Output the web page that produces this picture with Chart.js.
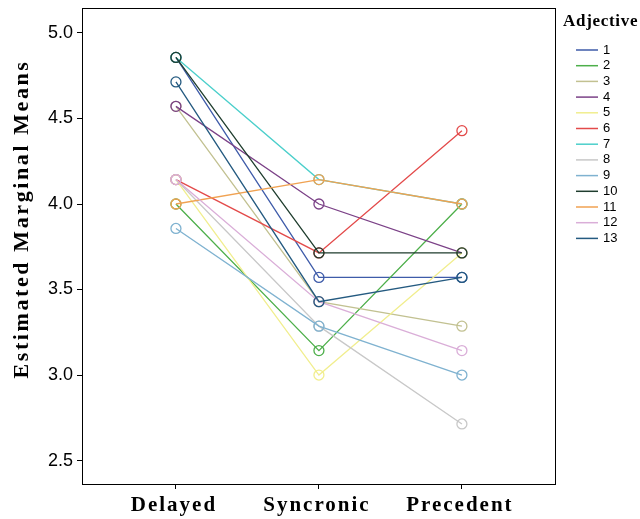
<!DOCTYPE html>
<html>
<head>
<meta charset="utf-8">
<script src="https://cdn.jsdelivr.net/npm/chart.js@4"></script>
<style>
  html, body { margin: 0; padding: 0; background: #fff; }
  #wrap { width: 640px; height: 519px; }
</style>
</head>
<body>
<div id="wrap"><canvas id="myChart" width="640" height="519"></canvas></div>
<script>
// categories on the x axis
var categories = ["Delayed", "Syncronic", "Precedent"];
var yTicks = [2.5, 3.0, 3.5, 4.0, 4.5, 5.0];

// one series per adjective (sevenths)
var adjectives = ["1", "2", "3", "4", "5", "6", "7", "8", "9", "10", "11", "12", "13"];
var adj1  = [4.857, 3.571, 3.571];
var adj2  = [4.000, 3.143, 4.000];
var adj3  = [4.571, 3.429, 3.286];
var adj4  = [4.571, 4.000, 3.714];
var adj5  = [4.143, 3.000, 3.714];
var adj6  = [4.143, 3.714, 4.429];
var adj7  = [4.857, 4.143, 4.000];
var adj8  = [4.143, 3.286, 2.714];
var adj9  = [3.857, 3.286, 3.000];
var adj10 = [4.857, 3.714, 3.714];
var adj11 = [4.000, 4.143, 4.000];
var adj12 = [4.143, 3.429, 3.143];
var adj13 = [4.714, 3.429, 3.571];
var seriesValues = [adj1, adj2, adj3, adj4, adj5, adj6, adj7, adj8, adj9, adj10, adj11, adj12, adj13];

var colors = ["#3E5BA9", "#4DAF4A", "#C2C191", "#7B4187", "#F1EE8E", "#E34A4A", "#4BCFCB",
              "#C8C8C8", "#7FB2D0", "#1F3D2E", "#F0A252", "#DAAED8", "#245A80"];

var datasets = [];
for (let i = 0; i < seriesValues.length; i++) {
    let pts = [];
    for (let j = 0; j < categories.length; j++)
        pts.push({x: j, y: seriesValues[i][j]});
    datasets.push({
        label: adjectives[i],
        data: pts,
        borderColor: colors[i],
        borderWidth: 1.3,
        pointRadius: 5,
        pointHoverRadius: 5,
        pointBorderWidth: 1.3,
        pointBorderColor: colors[i],
        pointBackgroundColor: "rgba(0,0,0,0)",
        fill: false,
        tension: 0,
        order: -i
    });
}

var serifBold = "'Liberation Serif', 'Times New Roman', serif";

// spaced-out x labels, frame, y title and legend
const extras = {
    id: "extras",
    afterDraw(chart) {
        const ctx = chart.ctx;
        const a = chart.chartArea;
        const xs = chart.scales.x;
        ctx.save();
        ctx.strokeStyle = "#000";
        ctx.lineWidth = 1;
        ctx.strokeRect(a.left + 0.5, a.top + 0.5, a.right - a.left, a.bottom - a.top);

        // x category labels
        ctx.fillStyle = "#000";
        ctx.font = "bold 21px " + serifBold;
        ctx.letterSpacing = "2px";
        ctx.textAlign = "center";
        ctx.textBaseline = "middle";
        categories.forEach(function (c, i) {
            ctx.fillText(c, xs.getPixelForValue(i) - 2, 506);
        });

        // y axis title
        ctx.translate(22, 219);
        ctx.rotate(-Math.PI / 2);
        ctx.font = "bold 22px " + serifBold;
        ctx.letterSpacing = "2.6px";
        ctx.fillText("Estimated Marginal Means", 0, 0);
        ctx.restore();

        // legend
        ctx.save();
        ctx.fillStyle = "#000";
        ctx.font = "bold 17px " + serifBold;
        ctx.letterSpacing = "0.7px";
        ctx.textBaseline = "middle";
        ctx.fillText("Adjective", 563, 22);
        ctx.letterSpacing = "0px";
        ctx.font = "13px 'Liberation Sans', Arial, sans-serif";
        chart.data.datasets.forEach(function (ds, i) {
            let y = 50 + i * 15.7;
            ctx.strokeStyle = ds.borderColor;
            ctx.lineWidth = 1.5;
            ctx.beginPath();
            ctx.moveTo(576, y);
            ctx.lineTo(598, y);
            ctx.stroke();
            ctx.fillText(ds.label, 603, y);
        });
        ctx.restore();
    }
};

new Chart("myChart", {
    type: "line",
    data: { datasets: datasets },
    options: {
        responsive: false,
        animation: false,
        layout: { padding: { top: 8, right: 85, left: 0, bottom: 0 } },
        plugins: {
            legend: { display: false },
            tooltip: { enabled: false }
        },
        scales: {
            x: {
                type: "linear",
                min: -0.657,
                max: 2.651,
                afterBuildTicks: function (scale) {
                    scale.ticks = categories.map((c, i) => ({ value: i }));
                },
                afterFit: function (scale) {
                    scale.height = 35;
                    scale.paddingLeft = 0;
                    scale.paddingRight = 0;
                },
                ticks: {
                    display: false
                },
                grid: { drawOnChartArea: false, drawTicks: true, tickLength: 5, color: "#000" },
                border: { display: true, color: "#000" }
            },
            y: {
                min: 2.363,
                max: 5.146,
                afterBuildTicks: function (scale) {
                    scale.ticks = yTicks.map(v => ({ value: v }));
                },
                afterFit: function (scale) {
                    scale.width = 82;
                    scale.paddingTop = 0;
                    scale.paddingBottom = 0;
                },
                ticks: {
                    callback: function (v) { return v.toFixed(1); },
                    color: "#000",
                    padding: 4,
                    font: { family: "'Liberation Sans', Arial, sans-serif", size: 18 }
                },
                grid: { drawOnChartArea: false, drawTicks: true, tickLength: 5, color: "#000" },
                border: { display: true, color: "#000" }
            }
        }
    },
    plugins: [extras]
});
</script>
</body>
</html>
